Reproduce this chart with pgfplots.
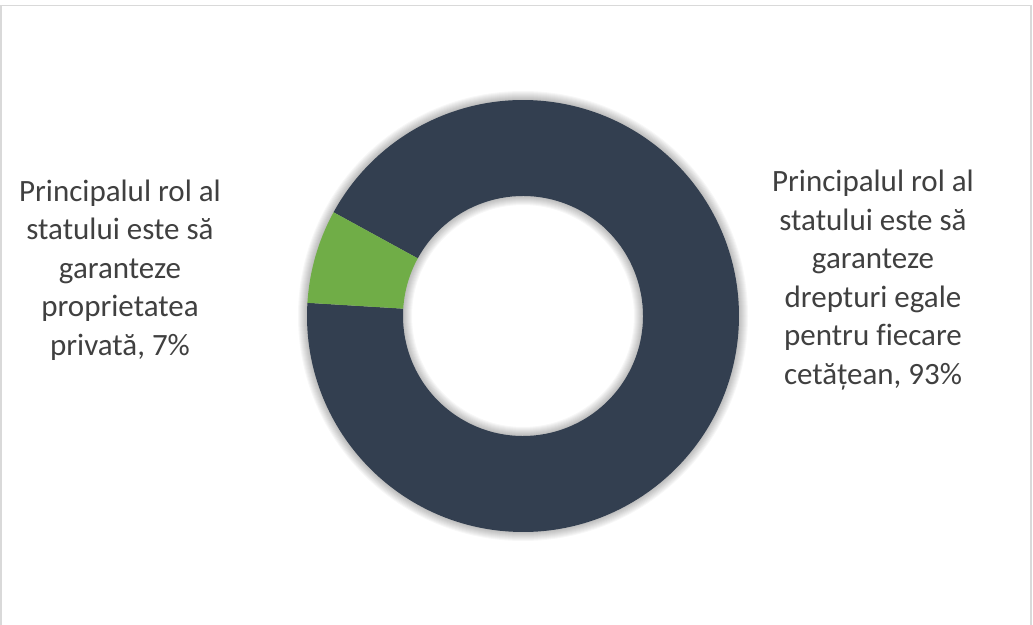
\documentclass[border=0pt]{standalone}
\usepackage{pgfplots}
\pgfplotsset{compat=1.18}
\usepackage{pgfplotstable}
\usepackage{fontspec}
\setmainfont{Carlito}
\definecolor{navy}{HTML}{333F50}
\definecolor{grn}{HTML}{70AD47}
\definecolor{lbl}{HTML}{404040}
\definecolor{frame}{HTML}{D9D9D9}

\pgfplotstableread{
label value
egale 93
privata 7
}\datatable

\begin{document}
\begin{tikzpicture}
\pgfplotstablegetelem{0}{value}\of\datatable \pgfmathsetmacro{\vA}{\pgfplotsretval}
\pgfplotstablegetelem{1}{value}\of\datatable \pgfmathsetmacro{\vB}{\pgfplotsretval}
\def\cx{523}\def\cy{308}\def\Ro{216}\def\Ri{120}
\pgfmathsetmacro{\gA}{151.3}
\pgfmathsetmacro{\gB}{\gA+\vB*3.6}
\pgfmathsetmacro{\nB}{\gB+\vA*3.6}
\pgfmathsetmacro{\xGAo}{\cx+\Ro*cos(\gA)}\pgfmathsetmacro{\yGAo}{\cy+\Ro*sin(\gA)}
\pgfmathsetmacro{\xGBo}{\cx+\Ro*cos(\gB)}\pgfmathsetmacro{\yGBo}{\cy+\Ro*sin(\gB)}
\pgfmathsetmacro{\xGBi}{\cx+\Ri*cos(\gB)}\pgfmathsetmacro{\yGBi}{\cy+\Ri*sin(\gB)}
\pgfmathsetmacro{\xNBi}{\cx+\Ri*cos(\nB)}\pgfmathsetmacro{\yNBi}{\cy+\Ri*sin(\nB)}
\path[use as bounding box] (0,0) rectangle (1033pt,624pt);
\begin{axis}[
  at={(0,0)}, anchor=south west,
  width=1033pt, height=624pt, scale only axis,
  xmin=0, xmax=1033, ymin=0, ymax=624,
  hide axis, clip=false,
]
% frame
\draw[frame, line width=1.5pt] (axis cs:1,-5) -- (axis cs:1,618.5) -- (axis cs:1031,618.5) -- (axis cs:1031,-5);
% soft shadow
\pgfplotsinvokeforeach{1,...,9}{
  \fill[black, opacity=0.03, even odd rule]
    (axis cs:\cx,\cy) circle[radius={(\Ro+#1)*1pt}]
    (axis cs:\cx,\cy) circle[radius={(\Ri-#1)*1pt}];
}
% navy slice
\fill[navy] (axis cs:\xGBo,\yGBo) arc[start angle=\gB, end angle=\nB, radius=\Ro pt]
  -- (axis cs:\xNBi,\yNBi) arc[start angle=\nB, end angle=\gB, radius=\Ri pt] -- cycle;
% green slice
\fill[grn] (axis cs:\xGAo,\yGAo) arc[start angle=\gA, end angle=\gB, radius=\Ro pt]
  -- (axis cs:\xGBi,\yGBi) arc[start angle=\gB, end angle=\gA, radius=\Ri pt] -- cycle;
% labels
\node[align=center, text=lbl, font={\addfontfeatures{Ligatures=NoCommon}\fontsize{31}{38.5}\selectfont}] at (axis cs:120,354)
  {Principalul rol al\\statului este să\\garanteze\\proprietatea\\privată, 7\%};
\node[align=center, text=lbl, font={\addfontfeatures{Ligatures=NoCommon}\fontsize{31}{38.5}\selectfont}] at (axis cs:873,344)
  {Principalul rol al\\statului este să\\garanteze\\drepturi egale\\pentru fiecare\\cetățean, 93\%};
\end{axis}
\end{tikzpicture}
\end{document}
